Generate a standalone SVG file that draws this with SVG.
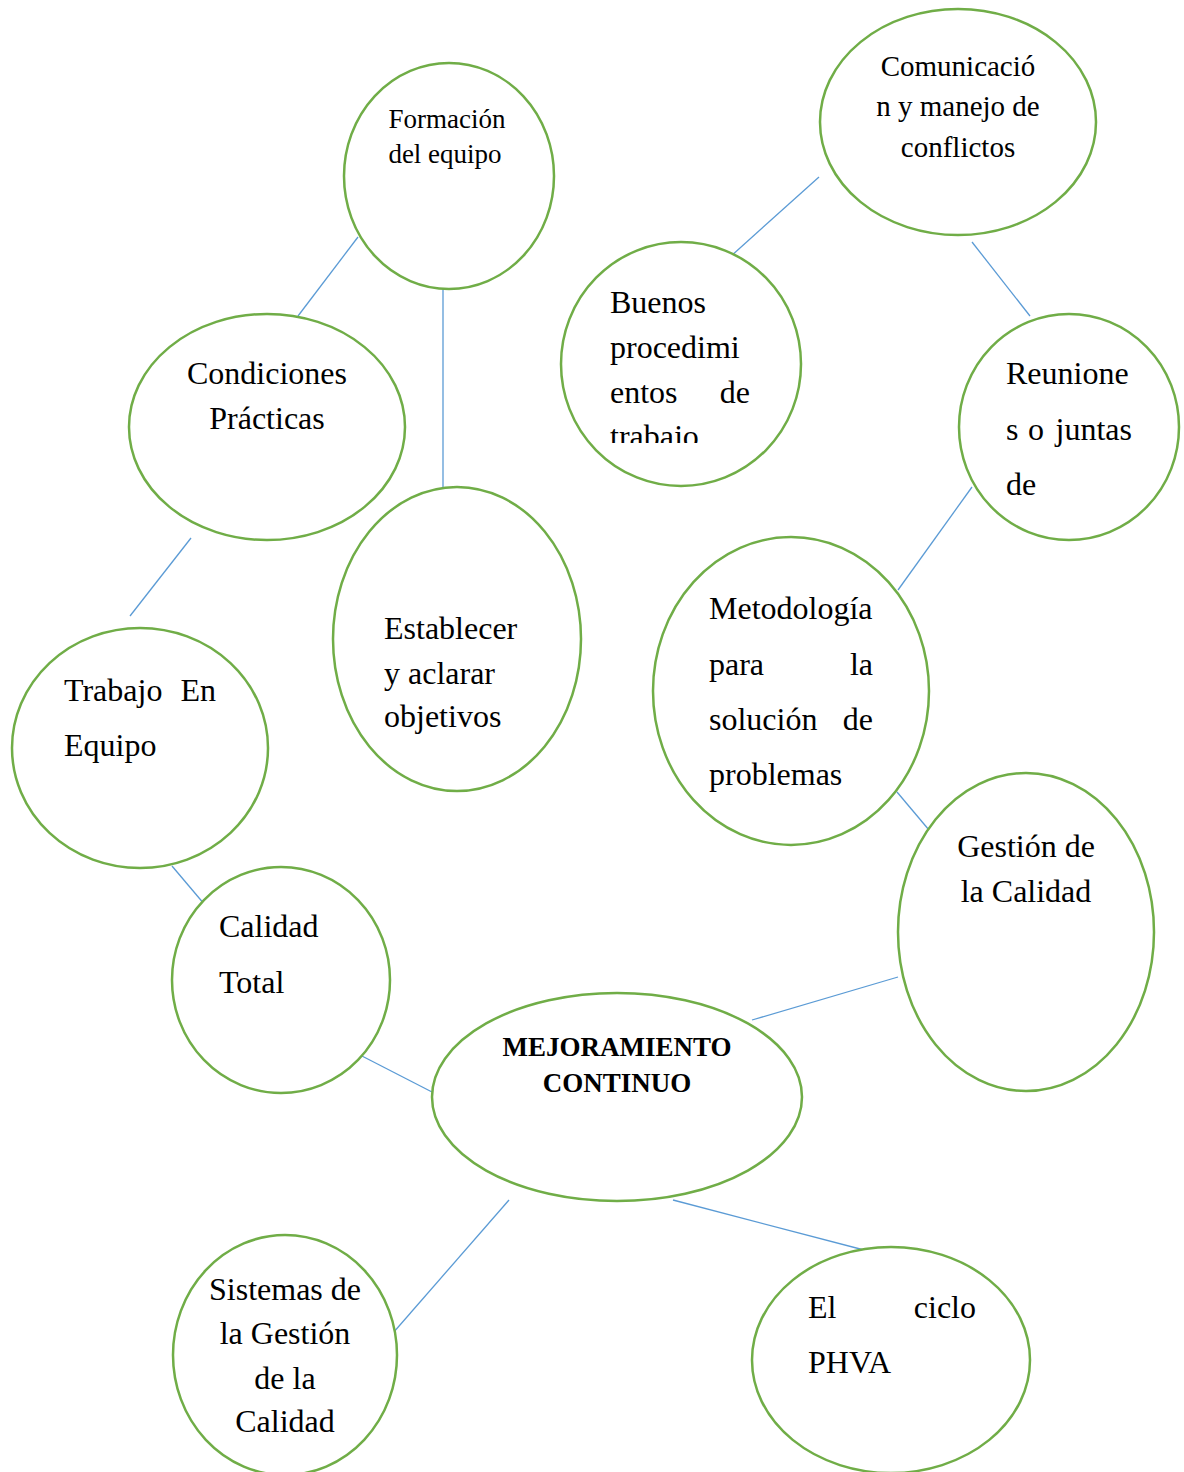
<svg xmlns="http://www.w3.org/2000/svg" width="1184" height="1472" viewBox="0 0 1184 1472">
<style>
.n{fill:#fff;stroke:#70AD47;stroke-width:2.5}
.c line{stroke:#5B9BD5;stroke-width:1.3}
text{font-family:"Liberation Serif","Times New Roman",serif;fill:#000;font-size:32px}
.m{text-anchor:middle}
.e{text-anchor:end}
.s{font-size:27px}
.t{font-size:29px}
.b{font-size:27px;font-weight:bold}
</style>
<defs>
<clipPath id="cb"><rect x="560" y="240" width="250" height="203"/></clipPath>
</defs>
<rect width="1184" height="1472" fill="#fff"/>
<g class="c">
<line x1="358" y1="237" x2="298" y2="316"/>
<line x1="443" y1="289" x2="443" y2="487"/>
<line x1="819" y1="177" x2="730" y2="257"/>
<line x1="972" y1="242" x2="1030" y2="316"/>
<line x1="191" y1="538" x2="130" y2="616"/>
<line x1="972" y1="487" x2="898" y2="590"/>
<line x1="897" y1="792" x2="929" y2="830"/>
<line x1="172" y1="866" x2="205" y2="905"/>
<line x1="360" y1="1055" x2="432" y2="1092"/>
<line x1="752" y1="1020" x2="898" y2="977"/>
<line x1="509" y1="1200" x2="393" y2="1333"/>
<line x1="673" y1="1200" x2="864" y2="1250"/>
</g>
<g id="formacion"><ellipse class="n" cx="449" cy="176" rx="105" ry="113"/>
<text class="s m" x="447" y="128">Formación</text><text class="s m" x="445" y="163">del equipo</text></g>
<g id="comunicacion"><ellipse class="n" cx="958" cy="122" rx="138" ry="113"/>
<text class="t m" x="958" y="76">Comunicació</text><text class="t m" x="958" y="116">n y manejo de</text><text class="t m" x="958" y="157">conflictos</text></g>
<g id="condiciones"><ellipse class="n" cx="267" cy="427" rx="138" ry="113"/>
<text class="m" x="267" y="384">Condiciones</text><text class="m" x="267" y="429">Prácticas</text></g>
<g id="buenos"><ellipse class="n" cx="681" cy="364" rx="120" ry="122"/>
<g clip-path="url(#cb)"><text x="610" y="313">Buenos</text><text x="610" y="358">procedimi</text><text x="610" y="403">entos</text><text class="e" x="750" y="403">de</text><text x="610" y="447">trabajo</text></g></g>
<g id="reuniones"><ellipse class="n" cx="1069" cy="427" rx="110" ry="113"/>
<text x="1006" y="384">Reunione</text><text x="1006" y="440">s</text><text x="1028" y="440">o</text><text class="e" x="1132" y="440">juntas</text><text x="1006" y="495">de</text></g>
<g id="establecer"><ellipse class="n" cx="457" cy="639" rx="124" ry="152"/>
<text x="384" y="639">Establecer</text><text x="384" y="684">y aclarar</text><text x="384" y="727">objetivos</text></g>
<g id="trabajo"><ellipse class="n" cx="140" cy="748" rx="128" ry="120"/>
<text x="64" y="701">Trabajo</text><text class="e" x="216" y="701">En</text><text x="64" y="756">Equipo</text></g>
<g id="metodologia"><ellipse class="n" cx="791" cy="691" rx="138" ry="154"/>
<text x="709" y="619">Metodología</text><text x="709" y="675">para</text><text class="e" x="873" y="675">la</text><text x="709" y="730">solución</text><text class="e" x="873" y="730">de</text><text x="709" y="785">problemas</text></g>
<g id="gestion"><ellipse class="n" cx="1026" cy="932" rx="128" ry="159"/>
<text class="m" x="1026" y="857">Gestión de</text><text class="m" x="1026" y="902">la Calidad</text></g>
<g id="calidad"><ellipse class="n" cx="281" cy="980" rx="109" ry="113"/>
<text x="219" y="937">Calidad</text><text x="219" y="993">Total</text></g>
<g id="mejoramiento"><ellipse class="n" cx="617" cy="1097" rx="185" ry="104"/>
<text class="b m" x="617" y="1056">MEJORAMIENTO</text><text class="b m" x="617" y="1092">CONTINUO</text></g>
<g id="sistemas"><ellipse class="n" cx="285" cy="1355" rx="112" ry="120"/>
<text class="m" x="285" y="1300">Sistemas de</text><text class="m" x="285" y="1344">la Gestión</text><text class="m" x="285" y="1389">de la</text><text class="m" x="285" y="1432">Calidad</text></g>
<g id="ciclo"><ellipse class="n" cx="891" cy="1360" rx="139" ry="113"/>
<text x="808" y="1318">El</text><text class="e" x="976" y="1318">ciclo</text><text x="808" y="1373">PHVA</text></g>
</svg>
